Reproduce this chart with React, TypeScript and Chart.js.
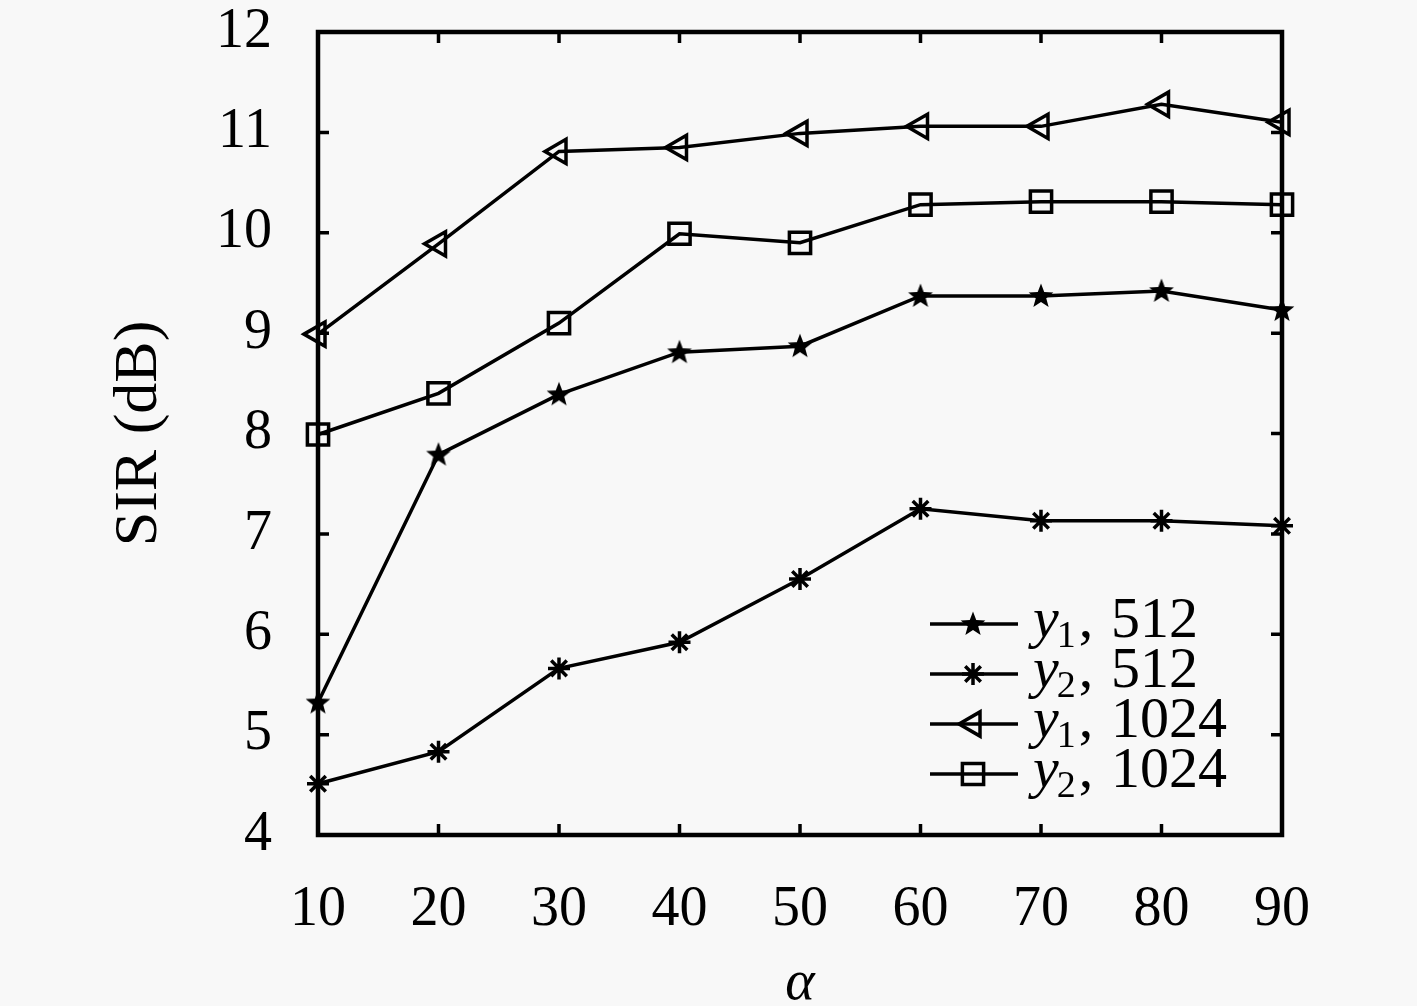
import { useEffect, useRef } from 'react';
import { Chart, registerables } from 'chart.js';
import { drawPoint } from 'chart.js/helpers';

Chart.register(...registerables);

const alphaValues = [10, 20, 30, 40, 50, 60, 70, 80, 90];
const yTicks = [4, 5, 6, 7, 8, 9, 10, 11, 12];

const y1_512 = [5.32, 7.79, 8.39, 8.81, 8.87, 9.37, 9.37, 9.42, 9.23];
const y2_512 = [4.51, 4.83, 5.66, 5.92, 6.55, 7.25, 7.13, 7.13, 7.08];
const y1_1024 = [8.99, 9.89, 10.81, 10.85, 10.99, 11.06, 11.06, 11.28, 11.10];
const y2_1024 = [7.99, 8.40, 9.10, 9.99, 9.90, 10.28, 10.31, 10.31, 10.28];

const seriesNames = [
  { sub: '1', num: '512' },
  { sub: '2', num: '512' },
  { sub: '1', num: '1024' },
  { sub: '2', num: '1024' },
];

const FONT = '"Liberation Serif", "Times New Roman", serif';
const BG = '#f8f8f8';

// filled five point star used as a marker
function makeStar(): HTMLCanvasElement {
  const c = document.createElement('canvas');
  c.width = 28;
  c.height = 28;
  const g = c.getContext('2d')!;
  g.fillStyle = '#000';
  g.beginPath();
  for (let i = 0; i < 10; i++) {
    const r = i % 2 === 0 ? 13 : 5.5;
    const a = -Math.PI / 2 + (i * Math.PI) / 5;
    const px = 14 + r * Math.cos(a);
    const py = 14.5 + r * Math.sin(a);
    if (i === 0) g.moveTo(px, py);
    else g.lineTo(px, py);
  }
  g.closePath();
  g.fill();
  return c;
}

const frameAndLegend = {
  id: 'frameAndLegend',
  beforeDraw(chart: any) {
    const { ctx, width, height } = chart;
    ctx.save();
    ctx.fillStyle = BG;
    ctx.fillRect(0, 0, width, height);
    ctx.restore();
  },
  afterDatasetsDraw(chart: any) {
    const { ctx, chartArea } = chart;
    const { left, right, top, bottom } = chartArea;
    const xs = chart.scales.x;
    const ys = chart.scales.y;
    ctx.save();
    ctx.strokeStyle = '#000';
    ctx.lineWidth = 3.5;
    ctx.beginPath();
    yTicks.forEach((v) => {
      const py = ys.getPixelForValue(v);
      ctx.moveTo(left, py);
      ctx.lineTo(left + 11, py);
      ctx.moveTo(right, py);
      ctx.lineTo(right - 11, py);
    });
    alphaValues.forEach((v) => {
      const px = xs.getPixelForValue(v);
      ctx.moveTo(px, bottom);
      ctx.lineTo(px, bottom - 11);
      ctx.moveTo(px, top);
      ctx.lineTo(px, top + 11);
    });
    ctx.stroke();
    ctx.lineWidth = 4.5;
    ctx.strokeRect(left, top, right - left, bottom - top);

    // legend
    const rowY = [624, 674, 724, 774];
    chart.data.datasets.forEach((ds: any, i: number) => {
      const y = rowY[i];
      ctx.strokeStyle = '#000';
      ctx.lineWidth = 3.5;
      ctx.beginPath();
      ctx.moveTo(930, y);
      ctx.lineTo(1018, y);
      ctx.stroke();
      ctx.lineWidth = ds.pointBorderWidth;
      ctx.fillStyle = ds.pointBackgroundColor;
      drawPoint(
        ctx,
        { pointStyle: ds.pointStyle, rotation: ds.pointRotation || 0, radius: ds.pointRadius, borderWidth: ds.pointBorderWidth },
        973,
        y,
      );
      ctx.fillStyle = '#000';
      ctx.textBaseline = 'alphabetic';
      ctx.textAlign = 'left';
      const base = y + 13;
      ctx.font = `italic 58px ${FONT}`;
      ctx.fillText('y', 1033, base);
      const yw = ctx.measureText('y').width;
      ctx.font = `38px ${FONT}`;
      ctx.fillText(seriesNames[i].sub, 1031 + yw, base + 10);
      const sw = ctx.measureText(seriesNames[i].sub).width;
      ctx.font = `58px ${FONT}`;
      ctx.fillText(',', 1034 + yw + sw, base);
      ctx.fillText(seriesNames[i].num, 1111, base);
    });
    ctx.restore();
  },
};

export default function App() {
  const canvasRef = useRef<HTMLCanvasElement>(null);
  const chartInstance = useRef<Chart | null>(null);

  useEffect(() => {
    document.body.style.margin = '0';
    document.body.style.background = BG;
    if (!canvasRef.current) return;
    if (chartInstance.current) chartInstance.current.destroy();

    const star = makeStar();
    const toPoints = (arr: number[]) => arr.map((v, i) => ({ x: alphaValues[i], y: v }));
    const common = {
      borderColor: '#000',
      borderWidth: 3.5,
      pointBorderColor: '#000',
      pointBorderWidth: 3.5,
      pointBackgroundColor: 'rgba(0,0,0,0)',
      fill: false,
      tension: 0,
      clip: false,
    };

    chartInstance.current = new Chart(canvasRef.current, {
      type: 'line',
      data: {
        datasets: [
          { ...common, label: 'y1, 512', data: toPoints(y1_512), pointStyle: star, pointRadius: 13, pointBackgroundColor: '#000' },
          { ...common, label: 'y2, 512', data: toPoints(y2_512), pointStyle: 'star', pointRadius: 11 },
          { ...common, label: 'y1, 1024', data: toPoints(y1_1024), pointStyle: 'triangle', pointRotation: -90, pointRadius: 14 },
          { ...common, label: 'y2, 1024', data: toPoints(y2_1024), pointStyle: 'rect', pointRadius: 15 },
        ] as any,
      },
      options: {
        animation: false,
        responsive: false,
        maintainAspectRatio: false,
        layout: { padding: { top: 32, right: 135, left: 0, bottom: 0 } },
        plugins: {
          legend: { display: false },
          tooltip: { enabled: false },
        },
        scales: {
          x: {
            type: 'linear',
            min: 10,
            max: 90,
            afterFit: (s: any) => {
              s.height = 171;
              s.paddingLeft = 0;
              s.paddingRight = 0;
            },
            afterBuildTicks: (s: any) => { s.ticks = alphaValues.map((v) => ({ value: v })); },
            grid: { display: false, drawTicks: false },
            border: { display: false },
            ticks: { color: '#000', padding: 42, font: { family: FONT, size: 56 } },
            title: {
              display: true,
              text: 'α',
              color: '#000',
              font: { family: FONT, size: 56, style: 'italic', lineHeight: 1 },
              padding: { top: 0, bottom: -6 },
            },
          },
          y: {
            type: 'linear',
            min: 4,
            max: 12,
            afterFit: (s: any) => {
              s.width = 318;
              s.paddingTop = 0;
              s.paddingBottom = 0;
            },
            afterBuildTicks: (s: any) => { s.ticks = yTicks.map((v) => ({ value: v })); },
            grid: { display: false, drawTicks: false },
            border: { display: false },
            ticks: { color: '#000', padding: 46, font: { family: FONT, size: 56 } },
            title: {
              display: true,
              text: 'SIR (dB)',
              color: '#000',
              font: { family: FONT, size: 62, lineHeight: 1 },
              padding: { top: 109, bottom: 0 },
            },
          },
        },
      },
      plugins: [frameAndLegend],
    });

    return () => {
      if (chartInstance.current) {
        chartInstance.current.destroy();
        chartInstance.current = null;
      }
    };
  }, []);

  return (
    <div style={{ width: 1417, height: 1006, background: BG }}>
      <canvas ref={canvasRef} width={1417} height={1006} style={{ display: 'block', width: 1417, height: 1006 }} />
    </div>
  );
}
